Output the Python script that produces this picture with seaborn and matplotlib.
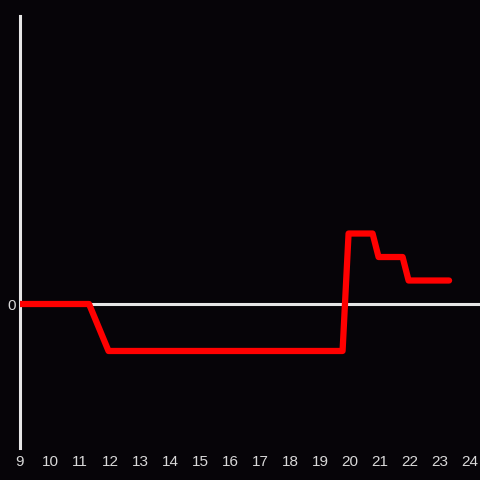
import seaborn as sns
import pandas as pd
import matplotlib.pyplot as plt

# values
hours = [9, 11.3, 11.95, 19.75, 19.95, 20.75, 20.95, 21.75, 21.95, 23.3]
level = [0, 0, -2, -2, 3, 3, 2, 2, 1, 1]
xticks = list(range(9, 25))

bg = '#060408'
fg = '#d8d8d8'

sns.set_theme(style='dark')
plt.rcParams['font.family'] = ['Liberation Sans', 'DejaVu Sans']

df = pd.DataFrame({'hour': hours, 'level': level})

fig = plt.figure(figsize=(4.8, 4.8), dpi=100, facecolor=bg)
ax = fig.add_axes([20 / 480, 32 / 480, 460 / 480, 432 / 480])
ax.set_facecolor(bg)

ax.axhline(0, color='#e6e6e6', lw=2.2, zorder=1)
sns.lineplot(data=df, x='hour', y='level', color='#ff0000', lw=4.5, ax=ax, zorder=3)

ax.set_xlim(9, 24.33)
ax.set_ylim(-6.13, 12.26)
ax.set_xticks(xticks)
ax.set_xticklabels([str(t) for t in xticks])
ax.set_yticks([0])
ax.set_yticklabels(['0'])
ax.tick_params(axis='both', length=0, colors=fg, labelsize=11, pad=5)
ax.tick_params(axis='y', pad=3)
ax.set_xlabel('')
ax.set_ylabel('')
ax.grid(False)

for s in ['top', 'right', 'bottom']:
    ax.spines[s].set_visible(False)
ax.spines['left'].set_color('#e6e6e6')
ax.spines['left'].set_linewidth(2.2)

fig.savefig('out.png', dpi=100, facecolor=bg)
